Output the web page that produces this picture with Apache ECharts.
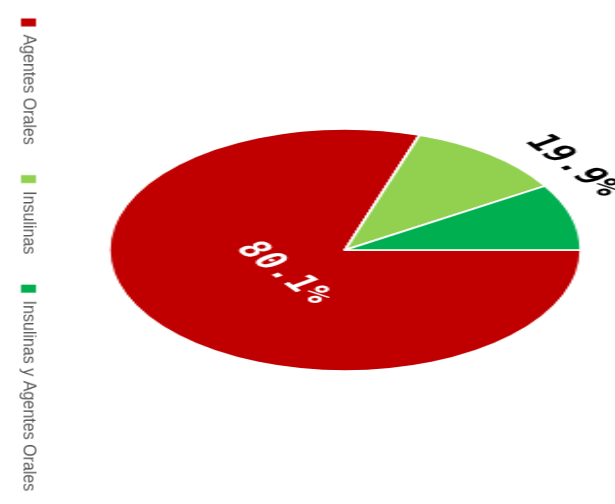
<!DOCTYPE html>
<html><head><meta charset="utf-8">
<script src="https://cdn.jsdelivr.net/npm/echarts@6/dist/echarts.min.js"></script>
<style>
html,body{margin:0;padding:0;background:#fff;width:615px;height:504px;overflow:hidden;}
#pie{position:absolute;left:185px;top:90px;width:320px;height:320px;transform:scaleX(1.95);transform-origin:50% 50%;}
#legend{position:absolute;left:0;top:0;width:580px;height:40px;transform-origin:0 0;transform:translate(47.5px,0) rotate(90deg) scaleX(0.89);}
</style></head><body>
<div id="pie"></div><div id="legend"></div>
<script>
// Data
const categories = ['Agentes Orales', 'Insulinas', 'Insulinas y Agentes Orales'];
const values = [80.1, 11.0, 8.9];
const colors = ['#C00000', '#92D050', '#00B050'];
// Label groups: Agentes Orales vs. all insulin treatments
const labelGroups = ['Agentes Orales', 'Insulinas (total)'];
const groupValues = [values[0], values[1] + values[2]];

const pieChart = echarts.init(document.getElementById('pie'), null, {renderer: 'canvas'});
function labelSeries(r, showIdx, color) {
  return {
    type: 'pie', radius: [0, r], center: ['50%', '50%'], startAngle: 0, clockwise: true,
    percentPrecision: 1, silent: true, animation: false, emphasis: {disabled: true},
    itemStyle: {color: 'rgba(0,0,0,0)', borderWidth: 0},
    label: {position: 'inside', rotate: 'tangential', formatter: '{d}%', color: color,
            fontFamily: 'DejaVu Sans Mono', fontWeight: 'bold', fontSize: 23},
    labelLine: {show: false},
    data: groupValues.map((v, i) => ({name: labelGroups[i], value: v, label: {show: i === showIdx}}))
  };
}
pieChart.setOption({
  backgroundColor: 'transparent',
  animation: false,
  series: [
    {
      type: 'pie', radius: 121, center: ['50%', '50%'], startAngle: 0, clockwise: true,
      silent: true, animation: false, emphasis: {disabled: true},
      itemStyle: {borderColor: '#fff', borderWidth: 1.5},
      label: {show: false}, labelLine: {show: false},
      data: categories.map((c, i) => ({name: c, value: values[i], itemStyle: {color: colors[i]}}))
    },
    labelSeries(72, 0, '#ffffff'),
    labelSeries(282, 1, '#000000')
  ]
});

const legendChart = echarts.init(document.getElementById('legend'), null, {renderer: 'canvas'});
legendChart.setOption({
  backgroundColor: 'transparent',
  animation: false,
  legend: {
    orient: 'horizontal', left: 15.7, top: 5, itemWidth: 9, itemHeight: 15, itemGap: 34,
    icon: 'rect', selectedMode: false,
    textStyle: {fontFamily: 'Liberation Sans', fontSize: 18, color: '#595959', padding: [0, 0, 0, 4]},
    data: categories
  },
  series: [{
    type: 'pie', radius: [0, 0], center: [-100, -100], silent: true, label: {show: false},
    data: categories.map((c, i) => ({name: c, value: values[i], itemStyle: {color: colors[i]}}))
  }]
});
</script>
</body></html>
